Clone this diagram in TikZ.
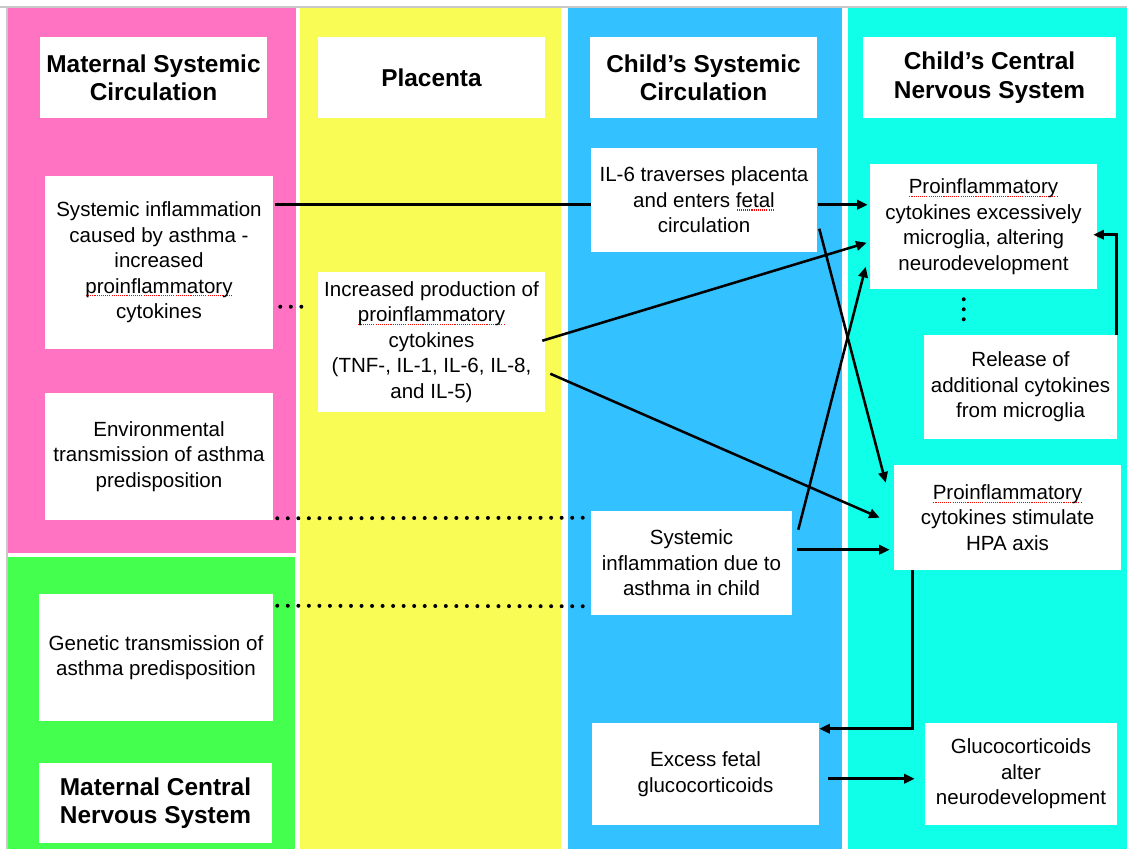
\documentclass[tikz,border=0pt]{standalone}
\usepackage{fontspec}
\setmainfont{Liberation Sans}
\usetikzlibrary{arrows.meta,calc}
\definecolor{cpink}{RGB}{255,115,194}
\definecolor{cyel}{RGB}{249,252,85}
\definecolor{cblue}{RGB}{51,194,255}
\definecolor{ccyan}{RGB}{16,255,232}
\definecolor{cgreen}{RGB}{69,255,79}
\definecolor{cborder}{RGB}{200,200,200}
\newcommand\bodyfont{\fontsize{15.4}{19.1}\selectfont}
\newcommand\headfont{\fontsize{18.3}{21.3}\selectfont\bfseries}
\newcommand\spchk[1]{\leavevmode\setbox0\hbox{#1}\rlap{\color{red}\raisebox{-2.4pt}{\leaders\hbox to 1.6pt{\hss\rule{0.8pt}{0.8pt}\hss}\hskip\wd0}}\box0}
\begin{document}
\begin{tikzpicture}[x=0.75pt,y=-0.75pt,
  box/.style={fill=white, inner sep=0pt, align=center, font=\bodyfont},
  head/.style={box, font=\headfont},
  wh/.style 2 args={minimum width=#1*0.75pt, minimum height=#2*0.75pt},
  conn/.style={line width=1.9pt},
  arr/.style={conn, -{Triangle[length=8pt,width=7pt]}},
  dotline/.style={line width=3pt, line cap=round, dash pattern=on 0pt off 7.9pt},
  vdots/.style={line width=3pt, line cap=round, dash pattern=on 0pt off 7.5pt}]
\useasboundingbox (0,0) rectangle (1127,849);
\fill[white] (0,0) rectangle (1127,849);
% border
\draw[cborder, line width=1.2pt] (0,7) -- (1127,7);
\draw[cborder, line width=1.2pt] (7,7) -- (7,849);
% panels
\fill[cpink]  (8,8)   rectangle (296,553);
\fill[cgreen] (8,557) rectangle (295,849);
\fill[cyel]   (300,8) rectangle (561,849);
\fill[cblue]  (568,8) rectangle (842,849);
\fill[ccyan]  (848,8) rectangle (1127,849);
% headers
\node[head, wh={227}{81}] (h1) at (153.5,77.5)  {Maternal Systemic\\Circulation};
\node[head, wh={227}{81}] (h2) at (431.5,77.5)  {Placenta};
\node[head, wh={227}{81}] (h3) at (703.5,77.5)  {Child’s Systemic\\Circulation};
\node[head, wh={253}{81}] (h4) at (989.5,77.5)  {Child’s Central\\Nervous System};
\node[head, wh={233}{80}] (h5) at (155.5,803)   {Maternal Central\\Nervous System};
% content boxes
\node[box, wh={228}{173}] (sinf) at (159,262.5) {Systemic inflammation\\caused by asthma -\\increased\\\spchk{proinflammatory}\\cytokines};
\node[box, wh={227}{140}] (prod) at (431.5,342) {Increased production of\\\spchk{proinflammatory}\\cytokines\\(TNF-, IL-1, IL-6, IL-8,\\and IL-5)};
\node[box, wh={228}{127}] (env) at (159,456.5) {Environmental\\transmission of asthma\\predisposition};
\node[box, wh={234}{127}] (gen) at (156,657.5) {Genetic transmission of\\asthma predisposition};
\node[box, wh={226}{104}] (il6) at (704,200) {IL-6 traverses placenta\\and enters \spchk{fetal}\\circulation};
\node[box, wh={227}{125}] (pro) at (983.5,226.5) {\spchk{Proinflammatory}\\cytokines excessively\\microglia, altering\\neurodevelopment};
\node[box, wh={193}{104}] (rel) at (1020.5,387) {Release of\\additional cytokines\\from microglia};
\node[box, wh={227}{105}] (hpa) at (1007.5,517.5) {\spchk{Proinflammatory}\\cytokines stimulate\\HPA axis};
\node[box, wh={201}{104}] (csi) at (691.5,563) {Systemic\\inflammation due to\\asthma in child};
\node[box, wh={227}{102}] (exc) at (705.5,774) {Excess fetal\\glucocorticoids};
\node[box, wh={192}{102}] (glu) at (1021,774) {Glucocorticoids\\alter\\neurodevelopment};
% connectors
\draw[conn] ($(sinf.north east)+(2,29)$) -- ($(il6.north west)+(0,57)$);
\draw[arr] ($(il6.north east)+(1,57)$) -- ($(pro.north west)+(-2,41)$);
\draw[arr] ($(prod.north east)+(-3,69)$) -- ($(pro.north west)+(-3,79)$);
\draw[arr] ($(prod.north east)+(5,102)$) -- ($(hpa.north west)+(-14,53)$);
\draw[arr] ($(il6.north east)+(2,81)$) -- ($(hpa.north west)+(-8,18)$);
\draw[arr] ($(csi.north east)+(6,19)$) -- ($(pro.north west)+(-4,103)$);
\draw[arr] ($(csi.north east)+(5,39)$) -- ($(hpa.north west)+(-4,85)$);
\draw[arr] ($(hpa.south west)+(19,0)$) |- ($(exc.north east)+(0,6)$);
\draw[arr] ($(exc.north east)+(9,56)$) -- ($(glu.north west)+(-10,56)$);
\draw[arr] ($(rel.north east)+(-1,0)$) |- ($(pro.north east)+(-4,71)$);
% dotted links
\draw[vdots] ($(pro.south west)+(94,10)$) -- ($(pro.south west)+(94,30.5)$);
\draw[dotline] ($(sinf.north east)+(7,131)$) -- ($(prod.north west)+(-6,35)$);
\draw[dotline] ($(env.south east)+(4,-2)$) -- ($(csi.north west)+(-4,7)$);
\draw[dotline] ($(gen.north east)+(4,12)$) -- ($(csi.south west)+(-4,-9)$);
\end{tikzpicture}
\end{document}
